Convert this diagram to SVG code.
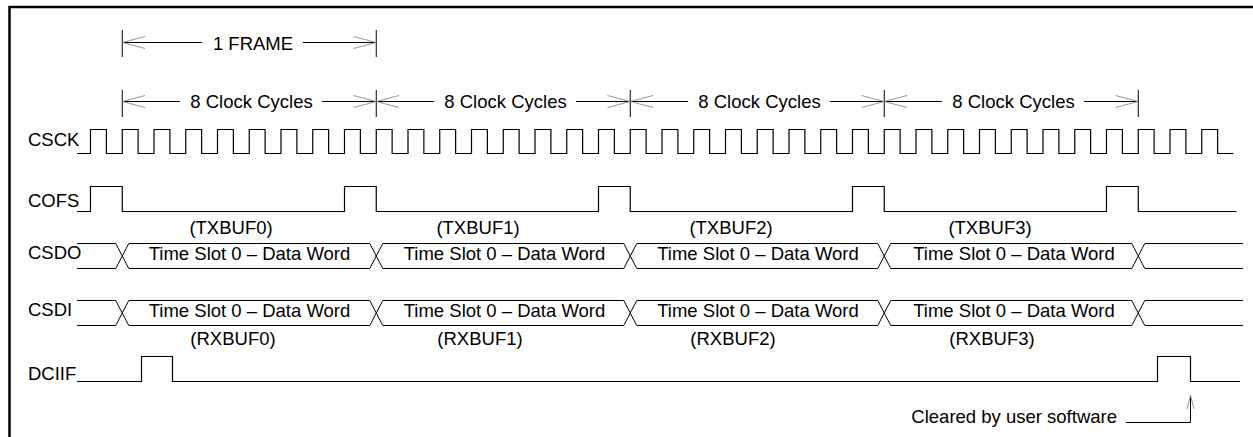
<svg xmlns="http://www.w3.org/2000/svg" width="1253" height="437" viewBox="0 0 1253 437">
<defs>
<style>
text{font-family:"Liberation Sans",Arial,sans-serif;font-size:18.5px;fill:#000}
.m{text-anchor:middle}
.w{fill:none;stroke:#000;stroke-width:1.2}
.t{fill:none;stroke:#000;stroke-width:1}
.h{fill:none;stroke:#8a8a8a;stroke-width:0.9}
.b{fill:none;stroke:#000;stroke-width:2.5}
</style>
</defs>
<rect width="1253" height="437" fill="#fff"/>
<path class="b" d="M9.5,437 V7 H1253"/>

<g id="connectors">
  <!-- 1 FRAME -->
  <path class="t" d="M122.25,30 V57 M376.25,30 V57 M122.25,42.5 H202 M303,42.5 H376.25"/>
  <path class="h" d="M145,36.5 L122.25,42.5 L145,48.5 M353.5,36.5 L376.25,42.5 L353.5,48.5"/>
  <!-- 8 Clock Cycles -->
  <path class="t" d="M122.25,90 V117 M376.25,90 V117 M630.25,90 V117 M884.25,90 V117 M1138.25,90 V117"/>
  <path class="t" d="M122.25,101.5 H180 M322,101.5 H376.25 M376.25,101.5 H434 M576,101.5 H630.25 M630.25,101.5 H688 M830,101.5 H884.25 M884.25,101.5 H942 M1084,101.5 H1138.25"/>
  <path class="h" d="M145,95.5 L122.25,101.5 L145,107.5 M353.5,95.5 L376.25,101.5 L353.5,107.5 M399,95.5 L376.25,101.5 L399,107.5 M607.5,95.5 L630.25,101.5 L607.5,107.5 M653,95.5 L630.25,101.5 L653,107.5 M861.5,95.5 L884.25,101.5 L861.5,107.5 M907,95.5 L884.25,101.5 L907,107.5 M1115.5,95.5 L1138.25,101.5 L1115.5,107.5"/>
  <!-- Cleared by user software -->
  <path class="t" d="M1126,422.5 H1190.5 V395.5"/>
  <path class="h" d="M1187,409 L1190.5,395.5 L1194,409"/>
</g>

<g id="labels-top">
  <text class="m" x="253" y="49.5">1 FRAME</text>
  <text class="m" x="251.5" y="108">8 Clock Cycles</text>
  <text class="m" x="505.5" y="108">8 Clock Cycles</text>
  <text class="m" x="759.5" y="108">8 Clock Cycles</text>
  <text class="m" x="1013.5" y="108">8 Clock Cycles</text>
</g>

<g id="CSCK">
  <text x="28" y="145.5">CSCK</text>
  <path class="w" d="M77,153.5 H90.5
  v-24h15.875v24h15.875 v-24h15.875v24h15.875 v-24h15.875v24h15.875 v-24h15.875v24h15.875
  v-24h15.875v24h15.875 v-24h15.875v24h15.875 v-24h15.875v24h15.875 v-24h15.875v24h15.875
  v-24h15.875v24h15.875 v-24h15.875v24h15.875 v-24h15.875v24h15.875 v-24h15.875v24h15.875
  v-24h15.875v24h15.875 v-24h15.875v24h15.875 v-24h15.875v24h15.875 v-24h15.875v24h15.875
  v-24h15.875v24h15.875 v-24h15.875v24h15.875 v-24h15.875v24h15.875 v-24h15.875v24h15.875
  v-24h15.875v24h15.875 v-24h15.875v24h15.875 v-24h15.875v24h15.875 v-24h15.875v24h15.875
  v-24h15.875v24h15.875 v-24h15.875v24h15.875 v-24h15.875v24h15.875 v-24h15.875v24h15.875
  v-24h15.875v24h15.875 v-24h15.875v24h15.875 v-24h15.875v24h15.875 v-24h15.875v24h15.875
  v-24h15.875v24h15.875 v-24h15.875v24h15.875 v-24h15.875v24h15.875 v-24h15.875v24h15.875"/>
</g>

<g id="COFS">
  <text x="28" y="206.5">COFS</text>
  <path class="w" d="M77,211.5 H90.5 V186.5 H122.25 V211.5 H344.5 V186.5 H376.25 V211.5 H598.5 V186.5 H630.25 V211.5 H852.5 V186.5 H884.25 V211.5 H1106.5 V186.5 H1138.25 V211.5 H1236.5"/>
</g>

<g id="CSDO">
  <text x="28" y="258.5">CSDO</text>
  <path class="w" d="M77,243.5 H115.75 M128.75,243.5 H369.75 M382.75,243.5 H623.75 M636.75,243.5 H877.75 M890.75,243.5 H1131.75 M1144.75,243.5 H1243 M77,268.5 H115.75 M128.75,268.5 H369.75 M382.75,268.5 H623.75 M636.75,268.5 H877.75 M890.75,268.5 H1131.75 M1144.75,268.5 H1243"/>
  <path class="t" d="M115.75,243.5 L128.75,268.5 M115.75,268.5 L128.75,243.5 M369.75,243.5 L382.75,268.5 M369.75,268.5 L382.75,243.5 M623.75,243.5 L636.75,268.5 M623.75,268.5 L636.75,243.5 M877.75,243.5 L890.75,268.5 M877.75,268.5 L890.75,243.5 M1131.75,243.5 L1144.75,268.5 M1131.75,268.5 L1144.75,243.5"/>
  <text class="m" x="231" y="234">(TXBUF0)</text>
  <text class="m" x="478" y="234">(TXBUF1)</text>
  <text class="m" x="731" y="234">(TXBUF2)</text>
  <text class="m" x="990" y="234">(TXBUF3)</text>
  <text class="m" x="249.5" y="259.5">Time Slot 0 – Data Word</text>
  <text class="m" x="504.5" y="259.5">Time Slot 0 – Data Word</text>
  <text class="m" x="758" y="259.5">Time Slot 0 – Data Word</text>
  <text class="m" x="1014" y="259.5">Time Slot 0 – Data Word</text>
</g>

<g id="CSDI">
  <text x="28" y="315.5">CSDI</text>
  <path class="w" d="M77,300.5 H115.75 M128.75,300.5 H369.75 M382.75,300.5 H623.75 M636.75,300.5 H877.75 M890.75,300.5 H1131.75 M1144.75,300.5 H1243 M77,325.5 H115.75 M128.75,325.5 H369.75 M382.75,325.5 H623.75 M636.75,325.5 H877.75 M890.75,325.5 H1131.75 M1144.75,325.5 H1243"/>
  <path class="t" d="M115.75,300.5 L128.75,325.5 M115.75,325.5 L128.75,300.5 M369.75,300.5 L382.75,325.5 M369.75,325.5 L382.75,300.5 M623.75,300.5 L636.75,325.5 M623.75,325.5 L636.75,300.5 M877.75,300.5 L890.75,325.5 M877.75,325.5 L890.75,300.5 M1131.75,300.5 L1144.75,325.5 M1131.75,325.5 L1144.75,300.5"/>
  <text class="m" x="249.5" y="316.5">Time Slot 0 – Data Word</text>
  <text class="m" x="504.5" y="316.5">Time Slot 0 – Data Word</text>
  <text class="m" x="758" y="316.5">Time Slot 0 – Data Word</text>
  <text class="m" x="1014" y="316.5">Time Slot 0 – Data Word</text>
  <text class="m" x="233" y="345">(RXBUF0)</text>
  <text class="m" x="480" y="345">(RXBUF1)</text>
  <text class="m" x="733" y="345">(RXBUF2)</text>
  <text class="m" x="992" y="345">(RXBUF3)</text>
</g>

<g id="DCIIF">
  <text x="28" y="380">DCIIF</text>
  <path class="w" d="M77,381.5 H141.5 V356.5 H172.5 V381.5 H1157.5 V356.5 H1190.5 V381.5 H1240"/>
</g>

<g id="note">
  <text x="1117" y="422.5" text-anchor="end">Cleared by user software</text>
</g>
</svg>
